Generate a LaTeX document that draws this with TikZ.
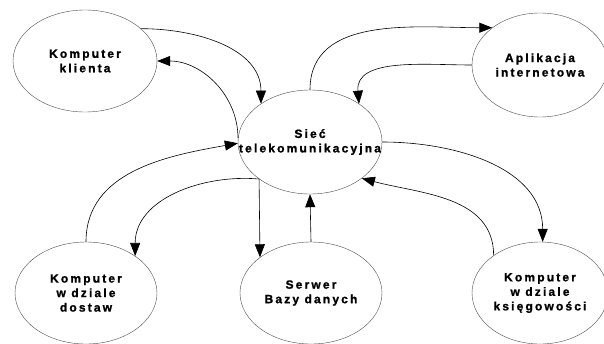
\documentclass[tikz,border=0pt]{standalone}
\usepackage{fontspec}
\newfontfamily\diagfont[LetterSpace=18,FakeBold=1.2]{Liberation Sans Bold}
\usetikzlibrary{shapes.geometric,arrows.meta}
\tikzset{>={Triangle[length=13pt,width=10pt]}}
\tikzset{
  station/.style={draw=black!70, ellipse, thin, inner xsep=-40pt, inner ysep=0pt,
    minimum width=142pt, minimum height=102pt, align=center,
    font=\diagfont\fontsize{12}{14.5}\selectfont},
  link/.style={->, semithick}
}

\begin{document}
\begin{tikzpicture}[x=1pt, y=-1pt]
  \useasboundingbox (0,0) rectangle (604,343);
  \node[station, minimum width=144pt] (klient) at (85,61) {Komputer\\klienta};
  \node[station, minimum width=144pt, minimum height=104pt] (siec) at (310,142) {Sieć\\telekomunikacyjna};
  \node[station, minimum width=136pt, minimum height=104pt] (aplik) at (540,65) {Aplikacja\\internetowa};
  \node[station] (dostaw) at (86,293) {Komputer\\w dziale\\dostaw};
  \node[station] (serwer) at (311,293) {Serwer\\Bazy danych};
  \node[station, minimum width=136pt] (ksieg) at (540,293) {Komputer\\w dziale\\księgowości};
  % klient
  \draw[link] (klient.30) to[out=0, in=90] (siec.142);
  \draw[link] (siec.177) to[out=90, in=0] (klient.0);
  % aplikacja
  \draw[link] (siec.90) to[out=90, in=180] (aplik.142);
  \draw[link] (aplik.180) to[out=180, in=95] (siec.38);
  % dostawy
  \draw[link] (dostaw.90) to[out=90, in=190] (siec.181);
  \draw[link] (siec.216) to[out=175, in=90] (dostaw.37);
  % serwer
  \draw[link] (siec.216) -- (serwer.145);
  \draw[link] (serwer.90) -- (siec.270);
  % ksiegowosc
  \draw[link] (siec.0) to[out=0, in=90] (ksieg.87);
  \draw[link] (ksieg.141) to[out=90, in=-15] (siec.-35);
\end{tikzpicture}
\end{document}
